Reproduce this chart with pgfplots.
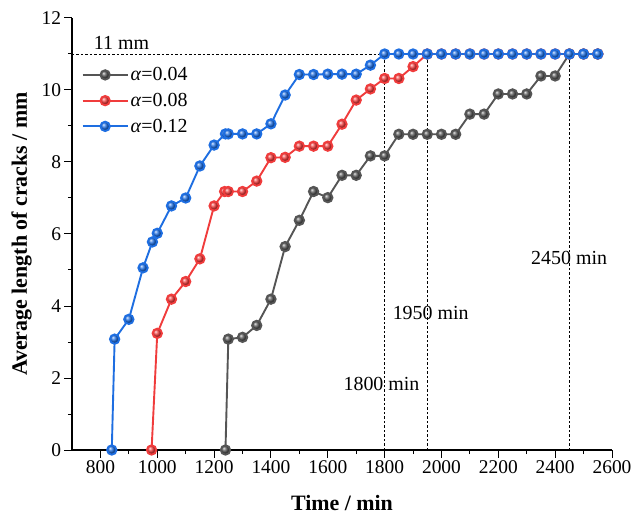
\documentclass[border=0pt]{standalone}
\usepackage{fontspec}
\setmainfont{Liberation Serif}
\usepackage{pgfplots}
\pgfplotsset{compat=1.18}
\definecolor{cblk}{RGB}{85,85,85}
\definecolor{cred}{RGB}{240,60,60}
\definecolor{cblu}{RGB}{30,110,225}
\begin{document}
\begin{tikzpicture}
\begin{axis}[
  scale only axis, width=540bp, height=432bp,
  xmin=700, xmax=2600, ymin=0, ymax=12,
  axis x line=bottom, axis y line=left,
  axis line style={-, line width=1.1bp},
  xtick={800,1000,...,2600}, ytick={0,2,...,12},
  minor x tick num=1, minor y tick num=1,
  tick align=outside, major tick length=7.5bp, minor tick length=4bp,
  tick style={black, line width=1bp},
  ticklabel style={font=\fontsize{19.5}{21}\selectfont},
  /pgf/number format/assume math mode=true,
  /pgf/number format/1000 sep={},
  xlabel={\textbf{Time / min}},
  ylabel={\textbf{Average length of cracks / mm}},
  label style={font=\fontsize{22}{24}\selectfont},
  xlabel style={yshift=-14bp},
  ylabel style={yshift=3bp},
  legend style={draw=none, fill=none, at={(0.012,0.895)}, anchor=north west,
    font=\fontsize{20}{22}\selectfont, row sep=7bp},
  legend cell align=left,
  legend image code/.code={
    \draw[mark=none, line width=2bp] (0bp,0bp) -- (45bp,0bp);
    \path[draw=none] plot coordinates {(22.5bp,0bp)};},
  every axis plot/.append style={line width=1.9bp, mark=ball, mark size=4.7bp},
]
% reference lines
\addplot[forget plot, black, line width=0.8bp, dash pattern=on 2.5bp off 2bp, mark=none] coordinates {(700,11) (1800,11)};
\addplot[forget plot, black, line width=0.8bp, dash pattern=on 2.5bp off 2bp, mark=none] coordinates {(1800,0) (1800,11)};
\addplot[forget plot, black, line width=0.8bp, dash pattern=on 2.5bp off 2bp, mark=none] coordinates {(1950,0) (1950,11)};
\addplot[forget plot, black, line width=0.8bp, dash pattern=on 2.5bp off 2bp, mark=none] coordinates {(2450,0) (2450,11)};

\addplot[cblk, mark options={ball color=cblk}] coordinates {
(1240,0) (1250,3.08) (1300,3.13) (1350,3.46) (1400,4.19) (1450,5.65)
(1500,6.38) (1550,7.18) (1600,7.01) (1650,7.63) (1700,7.63) (1750,8.17)
(1800,8.17) (1850,8.77) (1900,8.77) (1950,8.77) (2000,8.77) (2050,8.77)
(2100,9.33) (2150,9.33) (2200,9.89) (2250,9.89) (2300,9.89) (2350,10.39)
(2400,10.39) (2450,11) (2500,11) (2550,11)
};
\addlegendentry{\textit{α}=0.04}
\addplot[cred, mark options={ball color=cred}] coordinates {
(980,0) (1000,3.24) (1050,4.19) (1100,4.68) (1150,5.31) (1200,6.78)
(1237,7.18) (1250,7.18) (1300,7.18) (1350,7.47) (1400,8.12) (1450,8.13)
(1500,8.44) (1550,8.44) (1600,8.44) (1650,9.05) (1700,9.72) (1750,10.03)
(1800,10.32) (1850,10.32) (1900,10.65) (1950,11) (2000,11) (2050,11)
(2100,11) (2150,11) (2200,11) (2250,11) (2300,11) (2350,11) (2400,11)
(2450,11) (2500,11) (2550,11)
};
\addlegendentry{\textit{α}=0.08}
\addplot[cblu, mark options={ball color=cblu}] coordinates {
(840,0) (850,3.08) (900,3.63) (950,5.06) (983,5.78) (1000,6.02)
(1050,6.78) (1100,7.0) (1150,7.89) (1200,8.47) (1240,8.78) (1250,8.78)
(1300,8.78) (1350,8.78) (1400,9.06) (1450,9.86) (1500,10.43) (1550,10.43)
(1600,10.44) (1650,10.44) (1700,10.44) (1750,10.69) (1800,11) (1850,11)
(1900,11) (1950,11) (2000,11) (2050,11) (2100,11) (2150,11) (2200,11)
(2250,11) (2300,11) (2350,11) (2400,11) (2450,11) (2500,11) (2550,11)
};
\addlegendentry{\textit{α}=0.12}

\node[font=\fontsize{20}{22}\selectfont] at (axis cs:874,11.3) {11 mm};
\node[font=\fontsize{20}{22}\selectfont] at (axis cs:1789,1.83) {1800 min};
\node[font=\fontsize{20}{22}\selectfont] at (axis cs:1962,3.8) {1950 min};
\node[font=\fontsize{20}{22}\selectfont] at (axis cs:2449,5.33) {2450 min};
\end{axis}
\pgfresetboundingbox
\path[use as bounding box] ([shift={(-72bp,-67bp)}]current axis.south west) rectangle ([shift={(21bp,18bp)}]current axis.north east);
\end{tikzpicture}
\end{document}
